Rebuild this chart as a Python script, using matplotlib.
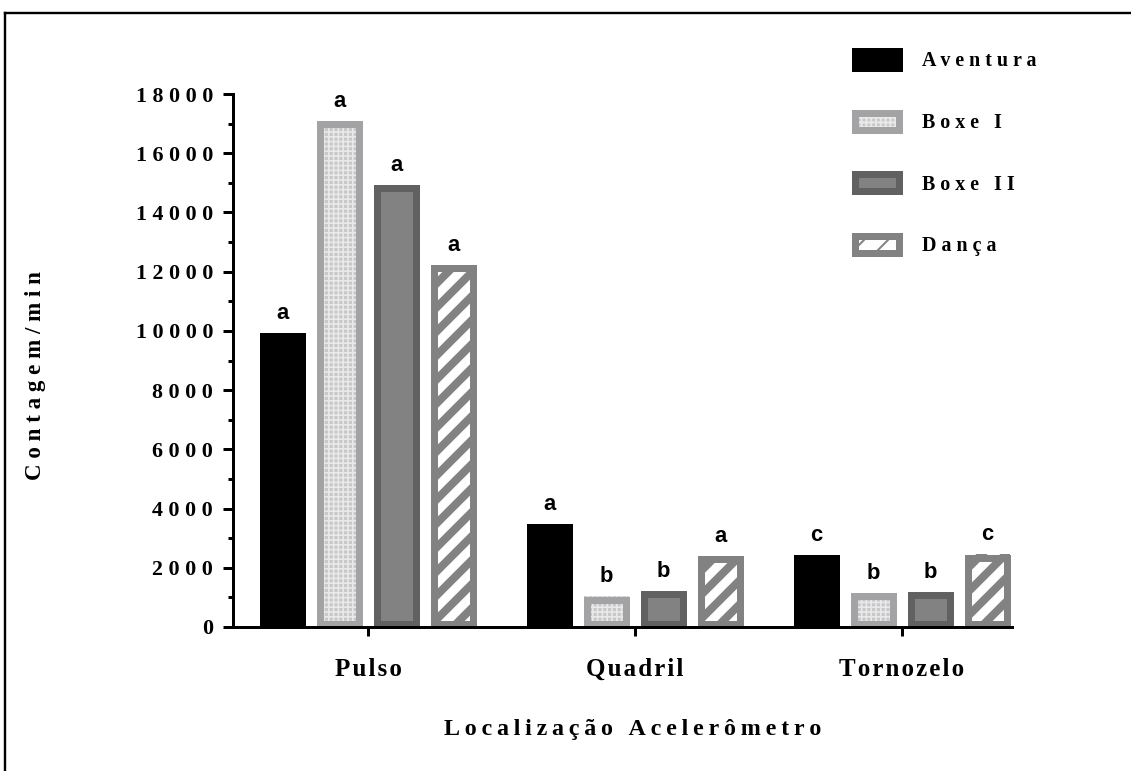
import matplotlib
matplotlib.use("Agg")
import matplotlib.pyplot as plt
from matplotlib.lines import Line2D
from matplotlib.legend_handler import HandlerTuple
from matplotlib.ticker import MultipleLocator, FixedLocator, FuncFormatter
import numpy as np

plt.rcParams['font.family'] = ['Liberation Serif', 'DejaVu Serif']
plt.rcParams['font.weight'] = 'bold'
plt.rcParams['axes.labelweight'] = 'bold'

# data
categories = ['Pulso', 'Quadril', 'Tornozelo']
series = ['Aventura', 'Boxe I', 'Boxe II', 'Dança']
aventura = [9930, 3480, 2440]
boxe_1 = [17100, 1040, 1160]
boxe_2 = [14940, 1225, 1190]
danca = [12230, 2410, 2465]
letters_aventura = ['a', 'a', 'c']
letters_boxe_1 = ['a', 'b', 'b']
letters_boxe_2 = ['a', 'b', 'b']
letters_danca = ['a', 'a', 'c']

values = [aventura, boxe_1, boxe_2, danca]
letters = [letters_aventura, letters_boxe_1, letters_boxe_2, letters_danca]

# (face, hatch, hatch colour, hatch linewidth, edge colour)
styles = [
    ('black', None, 'black', 1.0, 'black'),
    ('#c8c8c8', '+++++', '#e9e9e9', 0.8, '#a3a3a6'),
    ('#828282', None, '#828282', 1.0, '#616161'),
    ('white', '//', '#828282', 4.0, '#828282'),
]

EDGE_LW = 3.5  # points
DPI = 144


def spaced(s, sep=' '):
    return sep.join(s)


fig = plt.figure(figsize=(1131 / DPI, 771 / DPI), dpi=DPI)
ax = fig.add_axes([233 / 1131, 1 - 627 / 771, (1012 - 233) / 1131, (627 - 94) / 771])
ax.set_xlim(-0.5056, 2.412)
ax.set_ylim(0, 18000)

x = np.arange(len(categories))
pitch = 0.2135
width = 0.172

# size of the edge stroke in data units, so the outline stays inside the bar
edge_px = EDGE_LW * DPI / 72
p0 = ax.transData.transform((0, 0))
p1 = ax.transData.transform((1, 1000))
dx = edge_px / (p1[0] - p0[0])
dy = edge_px / ((p1[1] - p0[1]) / 1000)

handles = []
for i, (vals, st) in enumerate(zip(values, styles)):
    face, hatch, hcol, hlw, ecol = st
    pos = x + (i - 1.5) * pitch
    with plt.rc_context({'hatch.linewidth': hlw}):
        fill = ax.bar(pos, vals, width, color=face, hatch=hatch, edgecolor=hcol,
                      linewidth=0, zorder=2)
    for p in fill:
        if hasattr(p, 'set_hatch_linewidth'):
            p.set_hatch_linewidth(hlw)
    vals_arr = np.array(vals, dtype=float)
    outline = ax.bar(pos, vals_arr - dy, width - dx, bottom=dy / 2, fill=False,
                     edgecolor=ecol, linewidth=EDGE_LW, zorder=3)
    handles.append((fill[0], outline[0]))
    for xp, v, lt in zip(pos, vals, letters[i]):
        ax.annotate(lt, (xp, v), xytext=(0, 7), textcoords='offset points',
                    ha='center', va='baseline', fontsize=11,
                    family=['Liberation Sans', 'DejaVu Sans'], fontweight='bold',
                    zorder=4)

# axes styling
for side in ['top', 'right']:
    ax.spines[side].set_visible(False)
for side in ['left', 'bottom']:
    ax.spines[side].set_linewidth(1.5)
    ax.spines[side].set_zorder(5)

ax.yaxis.set_major_locator(MultipleLocator(2000))
ax.yaxis.set_minor_locator(MultipleLocator(1000))
ax.yaxis.set_major_formatter(FuncFormatter(lambda v, _: spaced(str(int(v)))))
ax.tick_params(axis='y', which='major', length=5, width=1.5, pad=5, labelsize=11)
ax.tick_params(axis='y', which='minor', length=2.5, width=1.5)

ax.xaxis.set_major_locator(FixedLocator(x))
ax.set_xticklabels([spaced(c, '\u200a') for c in categories])
ax.tick_params(axis='x', length=4.5, width=1.5, pad=11, labelsize=12.5)

ax.set_xlabel(spaced('Localização Acelerômetro', '\u2009'), fontsize=12, labelpad=0)
ax.xaxis.set_label_coords(0.513, -0.173)
ax.set_ylabel(spaced('Contagem/min'), fontsize=11.5, va='center')
ax.yaxis.set_label_coords(-0.254, 0.471)

ax.legend(handles, [spaced(s) for s in series], handler_map={tuple: HandlerTuple(ndivide=1)},
          loc='upper left', bbox_to_anchor=(855 / 1131, 1 - 51 / 771),
          bbox_transform=fig.transFigure, frameon=False, fontsize=10,
          handlelength=2.2, handleheight=0.95, handletextpad=1.15,
          labelspacing=2.05, borderpad=0, borderaxespad=0)

# outer frame (top and left edges only)
fig.add_artist(Line2D([5 / 1131, 1], [1 - 13 / 771] * 2, transform=fig.transFigure,
                      color='black', linewidth=1.2))
fig.add_artist(Line2D([5 / 1131] * 2, [0, 1 - 13 / 771], transform=fig.transFigure,
                      color='black', linewidth=1.2))

fig.savefig('out.png', dpi=DPI, facecolor='white')
